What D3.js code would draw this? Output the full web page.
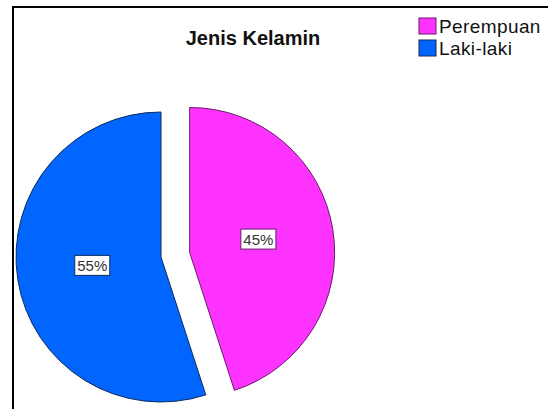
<!DOCTYPE html>
<html>
<head>
<meta charset="utf-8">
<script src="https://cdn.jsdelivr.net/npm/d3@7"></script>
<style>
  body { margin: 0; background: #fff; }
  svg { display: block; font-family: "Liberation Sans", Arial, sans-serif; }
</style>
</head>
<body>
<svg id="pie_svg" width="548" height="409"></svg>
<script>
// Data
var categories = ["Perempuan", "Laki-laki"];
var values = [45, 55];
var labels = ["45%", "55%"];
var colors = ["#ff33ff", "#0066ff"];
var strokes = ["#6a1a6a", "#102a5a"];
var explode = [29, 0];

var svg = d3.select("#pie_svg");

// frame (only top + left visible)
svg.append("path")
    .attr("d", "M13,409V7H548")
    .attr("fill", "none")
    .attr("stroke", "#000")
    .attr("stroke-width", 2);

// title
svg.append("text")
    .attr("x", 253)
    .attr("y", 45)
    .attr("text-anchor", "middle")
    .style("font-size", "20px")
    .style("font-weight", "bold")
    .attr("fill", "#111")
    .text("Jenis Kelamin");

// pie
const radius = 145;
const cx = 161, cy = 257;

const pie = d3.pie().sort(null).value(d => d);
const arcs = pie(values);

const arc = d3.arc().innerRadius(0).outerRadius(radius);
const labelArc = d3.arc().innerRadius(0).outerRadius(radius * 0.96);

const g = svg.append("g").attr("transform", `translate(${cx},${cy})`);

const slice = g.selectAll(".slice")
    .data(arcs)
    .enter()
    .append("g")
    .attr("class", "slice")
    .attr("transform", function(d, i) {
        const mid = (d.startAngle + d.endAngle) / 2;
        const dx = Math.sin(mid) * explode[i];
        const dy = -Math.cos(mid) * explode[i];
        return `translate(${dx},${dy})`;
    });

slice.append("path")
    .attr("d", arc)
    .attr("fill", (d, i) => colors[i])
    .attr("stroke", (d, i) => strokes[i])
    .attr("stroke-width", 1);

// percentage labels with boxes
slice.each(function(d, i) {
    const c = labelArc.centroid(d);
    const lg = d3.select(this).append("g")
        .attr("transform", `translate(${c[0]},${c[1] - 2})`);
    const t = lg.append("text")
        .attr("text-anchor", "middle")
        .attr("y", 5)
        .style("font-size", "15px")
        .attr("fill", "#333")
        .text(labels[i]);
    const bb = t.node().getBBox();
    lg.insert("rect", "text")
        .attr("x", bb.x - 2.5)
        .attr("y", bb.y - 1.5)
        .attr("width", bb.width + 5)
        .attr("height", bb.height + 3)
        .attr("fill", "#fff")
        .attr("stroke", strokes[i])
        .attr("stroke-width", 1);
});

// legend
const legend = svg.append("g").attr("transform", "translate(419,18)");
const item = legend.selectAll(".item")
    .data(categories)
    .enter()
    .append("g")
    .attr("transform", (d, i) => `translate(0,${i * 22})`);

item.append("rect")
    .attr("width", 17)
    .attr("height", 16)
    .attr("fill", (d, i) => colors[i])
    .attr("stroke", (d, i) => strokes[i])
    .attr("stroke-width", 1);

item.append("text")
    .attr("x", 20)
    .attr("y", 15)
    .style("font-size", "19px")
    .style("letter-spacing", "0.4px")
    .attr("fill", "#111")
    .text(d => d);
</script>
</body>
</html>
